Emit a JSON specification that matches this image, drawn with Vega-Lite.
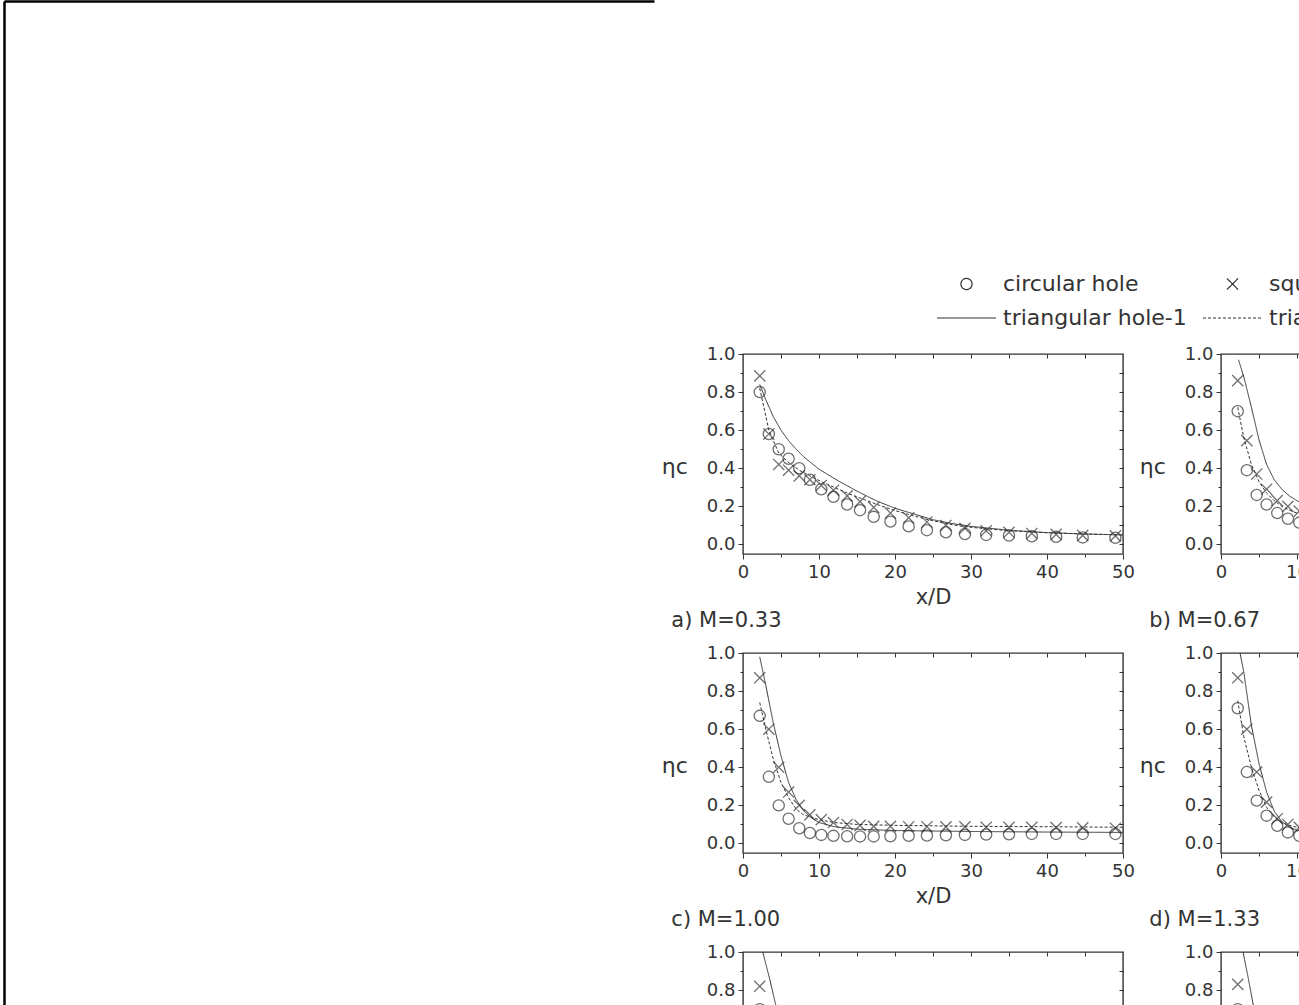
{
  "$schema": "https://vega.github.io/schema/vega-lite/v6.json",
  "padding": {"left": 4, "top": 1, "right": 0, "bottom": 0},
  "spacing": 6,
  "config": {
    "font": "DejaVu Sans",
    "view": {"stroke": null},
    "axis": {
      "labelFont": "DejaVu Sans", "labelFontSize": 18, "labelColor": "#333",
      "titleFont": "DejaVu Sans", "titleFontSize": 21, "titleFontWeight": "normal", "titleColor": "#333",
      "tickColor": "#333", "tickWidth": 1, "labelPadding": 3, "grid": false, "domain": false,
      "labelFlush": false, "labelOverlap": false, "labelBound": false
    },
    "title": {"font": "DejaVu Sans", "fontSize": 21, "fontWeight": "normal", "color": "#333", "orient": "bottom", "anchor": "start", "frame": "bounds", "offset": 3, "dx": 10},
    "legend": {"labelFont": "DejaVu Sans", "labelColor": "#333"}
  },
  "datasets": {
    "eta": [
      {"p":"a","s":"circular hole","x":2.2,"eta":0.80},{"p":"a","s":"circular hole","x":3.4,"eta":0.58},{"p":"a","s":"circular hole","x":4.7,"eta":0.50},{"p":"a","s":"circular hole","x":6.0,"eta":0.45},{"p":"a","s":"circular hole","x":7.4,"eta":0.40},{"p":"a","s":"circular hole","x":8.8,"eta":0.34},{"p":"a","s":"circular hole","x":10.3,"eta":0.29},{"p":"a","s":"circular hole","x":11.9,"eta":0.25},{"p":"a","s":"circular hole","x":13.7,"eta":0.21},{"p":"a","s":"circular hole","x":15.4,"eta":0.18},{"p":"a","s":"circular hole","x":17.2,"eta":0.145},{"p":"a","s":"circular hole","x":19.4,"eta":0.12},{"p":"a","s":"circular hole","x":21.8,"eta":0.095},{"p":"a","s":"circular hole","x":24.2,"eta":0.075},{"p":"a","s":"circular hole","x":26.7,"eta":0.064},{"p":"a","s":"circular hole","x":29.2,"eta":0.055},{"p":"a","s":"circular hole","x":32.0,"eta":0.05},{"p":"a","s":"circular hole","x":35.0,"eta":0.047},{"p":"a","s":"circular hole","x":38.0,"eta":0.043},{"p":"a","s":"circular hole","x":41.2,"eta":0.04},{"p":"a","s":"circular hole","x":44.7,"eta":0.037},{"p":"a","s":"circular hole","x":49.0,"eta":0.035},
      {"p":"a","s":"square hole","x":2.2,"eta":0.885},{"p":"a","s":"square hole","x":3.4,"eta":0.58},{"p":"a","s":"square hole","x":4.7,"eta":0.42},{"p":"a","s":"square hole","x":6.0,"eta":0.39},{"p":"a","s":"square hole","x":7.4,"eta":0.36},{"p":"a","s":"square hole","x":8.8,"eta":0.34},{"p":"a","s":"square hole","x":10.3,"eta":0.31},{"p":"a","s":"square hole","x":11.9,"eta":0.285},{"p":"a","s":"square hole","x":13.7,"eta":0.255},{"p":"a","s":"square hole","x":15.4,"eta":0.225},{"p":"a","s":"square hole","x":17.2,"eta":0.195},{"p":"a","s":"square hole","x":19.4,"eta":0.165},{"p":"a","s":"square hole","x":21.8,"eta":0.14},{"p":"a","s":"square hole","x":24.2,"eta":0.118},{"p":"a","s":"square hole","x":26.7,"eta":0.10},{"p":"a","s":"square hole","x":29.2,"eta":0.085},{"p":"a","s":"square hole","x":32.0,"eta":0.072},{"p":"a","s":"square hole","x":35.0,"eta":0.064},{"p":"a","s":"square hole","x":38.0,"eta":0.058},{"p":"a","s":"square hole","x":41.2,"eta":0.053},{"p":"a","s":"square hole","x":44.7,"eta":0.048},{"p":"a","s":"square hole","x":49.0,"eta":0.045},
      {"p":"a","s":"triangular hole-1","x":2.2,"eta":0.84},{"p":"a","s":"triangular hole-1","x":3,"eta":0.76},{"p":"a","s":"triangular hole-1","x":4,"eta":0.67},{"p":"a","s":"triangular hole-1","x":5,"eta":0.60},{"p":"a","s":"triangular hole-1","x":6,"eta":0.545},{"p":"a","s":"triangular hole-1","x":7,"eta":0.50},{"p":"a","s":"triangular hole-1","x":8,"eta":0.46},{"p":"a","s":"triangular hole-1","x":10,"eta":0.395},{"p":"a","s":"triangular hole-1","x":12.5,"eta":0.335},{"p":"a","s":"triangular hole-1","x":15,"eta":0.28},{"p":"a","s":"triangular hole-1","x":17.5,"eta":0.23},{"p":"a","s":"triangular hole-1","x":20,"eta":0.19},{"p":"a","s":"triangular hole-1","x":22.5,"eta":0.16},{"p":"a","s":"triangular hole-1","x":25,"eta":0.13},{"p":"a","s":"triangular hole-1","x":27.5,"eta":0.11},{"p":"a","s":"triangular hole-1","x":30,"eta":0.095},{"p":"a","s":"triangular hole-1","x":35,"eta":0.075},{"p":"a","s":"triangular hole-1","x":40,"eta":0.062},{"p":"a","s":"triangular hole-1","x":45,"eta":0.055},{"p":"a","s":"triangular hole-1","x":50,"eta":0.05},
      {"p":"a","s":"triangular hole-2","x":2.2,"eta":0.82},{"p":"a","s":"triangular hole-2","x":3.4,"eta":0.60},{"p":"a","s":"triangular hole-2","x":4.7,"eta":0.48},{"p":"a","s":"triangular hole-2","x":6,"eta":0.43},{"p":"a","s":"triangular hole-2","x":7.4,"eta":0.39},{"p":"a","s":"triangular hole-2","x":8.8,"eta":0.36},{"p":"a","s":"triangular hole-2","x":10.3,"eta":0.33},{"p":"a","s":"triangular hole-2","x":12,"eta":0.30},{"p":"a","s":"triangular hole-2","x":14,"eta":0.265},{"p":"a","s":"triangular hole-2","x":16,"eta":0.235},{"p":"a","s":"triangular hole-2","x":18,"eta":0.205},{"p":"a","s":"triangular hole-2","x":20,"eta":0.178},{"p":"a","s":"triangular hole-2","x":22,"eta":0.155},{"p":"a","s":"triangular hole-2","x":24,"eta":0.134},{"p":"a","s":"triangular hole-2","x":26,"eta":0.116},{"p":"a","s":"triangular hole-2","x":28,"eta":0.10},{"p":"a","s":"triangular hole-2","x":30,"eta":0.09},{"p":"a","s":"triangular hole-2","x":35,"eta":0.072},{"p":"a","s":"triangular hole-2","x":40,"eta":0.062},{"p":"a","s":"triangular hole-2","x":45,"eta":0.055},{"p":"a","s":"triangular hole-2","x":50,"eta":0.05},

      {"p":"b","s":"circular hole","x":2.2,"eta":0.70},{"p":"b","s":"circular hole","x":3.4,"eta":0.39},{"p":"b","s":"circular hole","x":4.7,"eta":0.26},{"p":"b","s":"circular hole","x":6.0,"eta":0.21},{"p":"b","s":"circular hole","x":7.4,"eta":0.165},{"p":"b","s":"circular hole","x":8.8,"eta":0.135},{"p":"b","s":"circular hole","x":10.3,"eta":0.115},
      {"p":"b","s":"square hole","x":2.2,"eta":0.86},{"p":"b","s":"square hole","x":3.4,"eta":0.545},{"p":"b","s":"square hole","x":4.7,"eta":0.37},{"p":"b","s":"square hole","x":6.0,"eta":0.29},{"p":"b","s":"square hole","x":7.4,"eta":0.23},{"p":"b","s":"square hole","x":8.8,"eta":0.20},{"p":"b","s":"square hole","x":10.3,"eta":0.175},
      {"p":"b","s":"triangular hole-1","x":2.3,"eta":0.97},{"p":"b","s":"triangular hole-1","x":3,"eta":0.88},{"p":"b","s":"triangular hole-1","x":4,"eta":0.72},{"p":"b","s":"triangular hole-1","x":5,"eta":0.55},{"p":"b","s":"triangular hole-1","x":6,"eta":0.42},{"p":"b","s":"triangular hole-1","x":7,"eta":0.34},{"p":"b","s":"triangular hole-1","x":8,"eta":0.29},{"p":"b","s":"triangular hole-1","x":9,"eta":0.255},{"p":"b","s":"triangular hole-1","x":10,"eta":0.23},{"p":"b","s":"triangular hole-1","x":11,"eta":0.21},
      {"p":"b","s":"triangular hole-2","x":2.2,"eta":0.72},{"p":"b","s":"triangular hole-2","x":3,"eta":0.56},{"p":"b","s":"triangular hole-2","x":4,"eta":0.42},{"p":"b","s":"triangular hole-2","x":5,"eta":0.33},{"p":"b","s":"triangular hole-2","x":6,"eta":0.27},{"p":"b","s":"triangular hole-2","x":7,"eta":0.23},{"p":"b","s":"triangular hole-2","x":8,"eta":0.20},{"p":"b","s":"triangular hole-2","x":9,"eta":0.18},{"p":"b","s":"triangular hole-2","x":10,"eta":0.165},{"p":"b","s":"triangular hole-2","x":11,"eta":0.155},

      {"p":"c","s":"circular hole","x":2.2,"eta":0.67},{"p":"c","s":"circular hole","x":3.4,"eta":0.35},{"p":"c","s":"circular hole","x":4.7,"eta":0.20},{"p":"c","s":"circular hole","x":6.0,"eta":0.13},{"p":"c","s":"circular hole","x":7.4,"eta":0.08},{"p":"c","s":"circular hole","x":8.8,"eta":0.055},{"p":"c","s":"circular hole","x":10.3,"eta":0.045},{"p":"c","s":"circular hole","x":11.9,"eta":0.04},{"p":"c","s":"circular hole","x":13.7,"eta":0.038},{"p":"c","s":"circular hole","x":15.4,"eta":0.037},{"p":"c","s":"circular hole","x":17.2,"eta":0.037},{"p":"c","s":"circular hole","x":19.4,"eta":0.038},{"p":"c","s":"circular hole","x":21.8,"eta":0.04},{"p":"c","s":"circular hole","x":24.2,"eta":0.042},{"p":"c","s":"circular hole","x":26.7,"eta":0.043},{"p":"c","s":"circular hole","x":29.2,"eta":0.045},{"p":"c","s":"circular hole","x":32.0,"eta":0.047},{"p":"c","s":"circular hole","x":35.0,"eta":0.048},{"p":"c","s":"circular hole","x":38.0,"eta":0.05},{"p":"c","s":"circular hole","x":41.2,"eta":0.05},{"p":"c","s":"circular hole","x":44.7,"eta":0.05},{"p":"c","s":"circular hole","x":49.0,"eta":0.05},
      {"p":"c","s":"square hole","x":2.2,"eta":0.87},{"p":"c","s":"square hole","x":3.4,"eta":0.60},{"p":"c","s":"square hole","x":4.7,"eta":0.40},{"p":"c","s":"square hole","x":6.0,"eta":0.27},{"p":"c","s":"square hole","x":7.4,"eta":0.20},{"p":"c","s":"square hole","x":8.8,"eta":0.15},{"p":"c","s":"square hole","x":10.3,"eta":0.125},{"p":"c","s":"square hole","x":11.9,"eta":0.11},{"p":"c","s":"square hole","x":13.7,"eta":0.10},{"p":"c","s":"square hole","x":15.4,"eta":0.095},{"p":"c","s":"square hole","x":17.2,"eta":0.09},{"p":"c","s":"square hole","x":19.4,"eta":0.09},{"p":"c","s":"square hole","x":21.8,"eta":0.088},{"p":"c","s":"square hole","x":24.2,"eta":0.088},{"p":"c","s":"square hole","x":26.7,"eta":0.087},{"p":"c","s":"square hole","x":29.2,"eta":0.087},{"p":"c","s":"square hole","x":32.0,"eta":0.085},{"p":"c","s":"square hole","x":35.0,"eta":0.085},{"p":"c","s":"square hole","x":38.0,"eta":0.085},{"p":"c","s":"square hole","x":41.2,"eta":0.083},{"p":"c","s":"square hole","x":44.7,"eta":0.082},{"p":"c","s":"square hole","x":49.0,"eta":0.08},
      {"p":"c","s":"triangular hole-1","x":2.2,"eta":0.98},{"p":"c","s":"triangular hole-1","x":3,"eta":0.83},{"p":"c","s":"triangular hole-1","x":4,"eta":0.63},{"p":"c","s":"triangular hole-1","x":5,"eta":0.46},{"p":"c","s":"triangular hole-1","x":6,"eta":0.32},{"p":"c","s":"triangular hole-1","x":7,"eta":0.23},{"p":"c","s":"triangular hole-1","x":8,"eta":0.17},{"p":"c","s":"triangular hole-1","x":9,"eta":0.135},{"p":"c","s":"triangular hole-1","x":10,"eta":0.11},{"p":"c","s":"triangular hole-1","x":12,"eta":0.088},{"p":"c","s":"triangular hole-1","x":15,"eta":0.075},{"p":"c","s":"triangular hole-1","x":20,"eta":0.068},{"p":"c","s":"triangular hole-1","x":30,"eta":0.063},{"p":"c","s":"triangular hole-1","x":40,"eta":0.06},{"p":"c","s":"triangular hole-1","x":50,"eta":0.058},
      {"p":"c","s":"triangular hole-2","x":2.2,"eta":0.74},{"p":"c","s":"triangular hole-2","x":3,"eta":0.60},{"p":"c","s":"triangular hole-2","x":4,"eta":0.44},{"p":"c","s":"triangular hole-2","x":5,"eta":0.32},{"p":"c","s":"triangular hole-2","x":6,"eta":0.24},{"p":"c","s":"triangular hole-2","x":7,"eta":0.18},{"p":"c","s":"triangular hole-2","x":8,"eta":0.15},{"p":"c","s":"triangular hole-2","x":10,"eta":0.125},{"p":"c","s":"triangular hole-2","x":12,"eta":0.11},{"p":"c","s":"triangular hole-2","x":15,"eta":0.10},{"p":"c","s":"triangular hole-2","x":20,"eta":0.095},{"p":"c","s":"triangular hole-2","x":30,"eta":0.09},{"p":"c","s":"triangular hole-2","x":40,"eta":0.088},{"p":"c","s":"triangular hole-2","x":50,"eta":0.085},

      {"p":"d","s":"circular hole","x":2.2,"eta":0.71},{"p":"d","s":"circular hole","x":3.4,"eta":0.375},{"p":"d","s":"circular hole","x":4.7,"eta":0.225},{"p":"d","s":"circular hole","x":6.0,"eta":0.146},{"p":"d","s":"circular hole","x":7.4,"eta":0.093},{"p":"d","s":"circular hole","x":8.8,"eta":0.058},{"p":"d","s":"circular hole","x":10.3,"eta":0.04},
      {"p":"d","s":"square hole","x":2.2,"eta":0.87},{"p":"d","s":"square hole","x":3.4,"eta":0.60},{"p":"d","s":"square hole","x":4.7,"eta":0.375},{"p":"d","s":"square hole","x":6.0,"eta":0.217},{"p":"d","s":"square hole","x":7.4,"eta":0.13},{"p":"d","s":"square hole","x":8.8,"eta":0.10},{"p":"d","s":"square hole","x":10.3,"eta":0.085},
      {"p":"d","s":"triangular hole-1","x":2.5,"eta":1.0},{"p":"d","s":"triangular hole-1","x":3,"eta":0.90},{"p":"d","s":"triangular hole-1","x":4,"eta":0.62},{"p":"d","s":"triangular hole-1","x":5,"eta":0.42},{"p":"d","s":"triangular hole-1","x":6,"eta":0.27},{"p":"d","s":"triangular hole-1","x":7,"eta":0.17},{"p":"d","s":"triangular hole-1","x":8,"eta":0.115},{"p":"d","s":"triangular hole-1","x":9,"eta":0.085},{"p":"d","s":"triangular hole-1","x":10,"eta":0.07},{"p":"d","s":"triangular hole-1","x":11,"eta":0.065},
      {"p":"d","s":"triangular hole-2","x":2.2,"eta":0.75},{"p":"d","s":"triangular hole-2","x":3,"eta":0.56},{"p":"d","s":"triangular hole-2","x":4,"eta":0.40},{"p":"d","s":"triangular hole-2","x":5,"eta":0.28},{"p":"d","s":"triangular hole-2","x":6,"eta":0.19},{"p":"d","s":"triangular hole-2","x":7,"eta":0.14},{"p":"d","s":"triangular hole-2","x":8,"eta":0.11},{"p":"d","s":"triangular hole-2","x":9,"eta":0.095},{"p":"d","s":"triangular hole-2","x":10,"eta":0.085},{"p":"d","s":"triangular hole-2","x":11,"eta":0.08},

      {"p":"e","s":"circular hole","x":2.2,"eta":0.70},{"p":"e","s":"square hole","x":2.2,"eta":0.82},
      {"p":"e","s":"triangular hole-1","x":2.6,"eta":1.0},{"p":"e","s":"triangular hole-1","x":3.5,"eta":0.86},{"p":"e","s":"triangular hole-1","x":4.5,"eta":0.69},
      {"p":"f","s":"circular hole","x":2.2,"eta":0.70},{"p":"f","s":"square hole","x":2.2,"eta":0.83},
      {"p":"f","s":"triangular hole-1","x":2.9,"eta":1.0},{"p":"f","s":"triangular hole-1","x":3.6,"eta":0.86},{"p":"f","s":"triangular hole-1","x":4.3,"eta":0.71}
    ]
  },
  "hconcat": [
    {
      "width": 650, "height": 1010,
      "data": {"values": []},
      "mark": "point",
      "encoding": {
        "x": {"field": "u", "type": "quantitative", "scale": {"domain": [0, 1]}, "axis": {"orient": "top", "labels": false, "ticks": false, "title": null, "domain": true, "domainColor": "#000", "domainWidth": 2.5}},
        "y": {"field": "v", "type": "quantitative", "scale": {"domain": [0, 1]}, "axis": {"orient": "left", "labels": false, "ticks": false, "title": null, "domain": true, "domainColor": "#000", "domainWidth": 2.5}}
      }
    },
    {
      "spacing": 11,
      "vconcat": [
        {"width": 1, "height": 332, "data": {"values": []}, "mark": "point"},
        {
          "spacing": 2,
          "hconcat": [
            {
              "width": 380, "height": 200, "view": {"stroke": "#333", "strokeWidth": 1.4},
              "title": "a) M=0.33",
              "data": {"name": "eta"},
              "transform": [{"filter": "datum.p === 'a'"}],
              "layer": [
                {
                  "transform": [{"filter": "datum.s === 'circular hole' || datum.s === 'square hole'"}],
                  "mark": {"type": "point", "filled": false, "size": 125, "strokeWidth": 1.3, "color": "#333"},
                  "encoding": {
                    "x": {"field": "x", "type": "quantitative", "scale": {"domain": [0, 50], "nice": false, "zero": false}, "axis": {"orient": "bottom", "values": [0,5,10,15,20,25,30,35,40,45,50], "labelExpr": "datum.value % 10 === 0 ? datum.label : ''", "tickSize": {"condition": {"test": "datum.value % 10 === 0", "value": 5}, "value": 3}, "labelPadding": 4, "title": "x/D", "titlePadding": 5}},
                    "y": {"field": "eta", "type": "quantitative", "scale": {"domain": [-0.05, 1], "nice": false, "zero": false}, "axis": {"orient": "left", "values": [0,0.1,0.2,0.3,0.4,0.5,0.6,0.7,0.8,0.9,1], "labelExpr": "round(datum.value * 10) % 2 === 0 ? format(datum.value, '.1f') : ''", "tickSize": {"condition": {"test": "round(datum.value * 10) % 2 === 0", "value": 5}, "value": 3}, "title": "ηc", "titleFontSize": 22, "titleAngle": 0, "titleAlign": "right", "titleBaseline": "middle", "titleY": 112, "titlePadding": 19}},
                    "shape": {"field": "s", "type": "nominal", "scale": {"domain": ["circular hole", "triangular hole-1", "square hole", "triangular hole-2"], "range": ["circle", "stroke", "M-1,-1L1,1M-1,1L1,-1", "stroke"]}, "legend": {"title": null, "orient": "none", "legendX": 932, "legendY": 273, "columns": 2, "clipHeight": 20, "rowPadding": 12, "columnPadding": 15, "labelOffset": 6, "labelFontSize": 22, "labelLimit": 400, "symbolSize": 3481, "symbolStrokeWidth": 1.2, "symbolStrokeColor": "#333", "padding": 0, "encode": {"symbols": {"update": {"size": {"signal": "datum.value === 'circular hole' || datum.value === 'square hole' ? 125 : 3481"}}}}}}
                  }
                },
                {
                  "transform": [{"filter": "datum.s === 'triangular hole-1' || datum.s === 'triangular hole-2'"}],
                  "mark": {"type": "line", "strokeWidth": 1, "color": "#333", "clip": true},
                  "encoding": {
                    "x": {"field": "x", "type": "quantitative", "scale": {"domain": [0, 50], "nice": false, "zero": false}, "axis": {"orient": "top", "values": [5,10,15,20,25,30,35,40,45], "labels": false, "tickSize": -4, "title": null}},
                    "y": {"field": "eta", "type": "quantitative", "scale": {"domain": [-0.05, 1], "nice": false, "zero": false}, "axis": {"orient": "right", "values": [0,0.1,0.2,0.3,0.4,0.5,0.6,0.7,0.8,0.9], "labels": false, "tickSize": -4, "title": null}},
                    "strokeDash": {"field": "s", "type": "nominal", "scale": {"domain": ["circular hole", "triangular hole-1", "square hole", "triangular hole-2"], "range": [[1, 0], [1, 0], [1, 0], [3, 2]]}, "legend": {"title": null, "orient": "none", "legendX": 932, "legendY": 273, "columns": 2, "clipHeight": 20, "rowPadding": 12, "columnPadding": 15, "labelOffset": 6, "labelFontSize": 22, "labelLimit": 400, "symbolSize": 3481, "symbolStrokeWidth": 1.2, "symbolStrokeColor": "#333", "padding": 0, "encode": {"symbols": {"update": {"size": {"signal": "datum.value === 'circular hole' || datum.value === 'square hole' ? 125 : 3481"}}}}}}
                  }
                }
              ],
              "resolve": {"axis": {"x": "independent", "y": "independent"}}
            },
            {
              "width": 380, "height": 200, "view": {"stroke": "#333", "strokeWidth": 1.4},
              "title": "b) M=0.67",
              "data": {"name": "eta"},
              "transform": [{"filter": "datum.p === 'b'"}],
              "layer": [
                {
                  "transform": [{"filter": "datum.s === 'circular hole' || datum.s === 'square hole'"}],
                  "mark": {"type": "point", "filled": false, "size": 125, "strokeWidth": 1.3, "color": "#333"},
                  "encoding": {
                    "x": {"field": "x", "type": "quantitative", "scale": {"domain": [0, 50], "nice": false, "zero": false}, "axis": {"orient": "bottom", "values": [0,5,10,15,20,25,30,35,40,45,50], "labelExpr": "datum.value % 10 === 0 ? datum.label : ''", "tickSize": {"condition": {"test": "datum.value % 10 === 0", "value": 5}, "value": 3}, "labelPadding": 4, "title": "x/D", "titlePadding": 5}},
                    "y": {"field": "eta", "type": "quantitative", "scale": {"domain": [-0.05, 1], "nice": false, "zero": false}, "axis": {"orient": "left", "values": [0,0.1,0.2,0.3,0.4,0.5,0.6,0.7,0.8,0.9,1], "labelExpr": "round(datum.value * 10) % 2 === 0 ? format(datum.value, '.1f') : ''", "tickSize": {"condition": {"test": "round(datum.value * 10) % 2 === 0", "value": 5}, "value": 3}, "title": "ηc", "titleFontSize": 22, "titleAngle": 0, "titleAlign": "right", "titleBaseline": "middle", "titleY": 112, "titlePadding": 19}},
                    "shape": {"field": "s", "type": "nominal", "scale": {"domain": ["circular hole", "triangular hole-1", "square hole", "triangular hole-2"], "range": ["circle", "stroke", "M-1,-1L1,1M-1,1L1,-1", "stroke"]}, "legend": null}
                  }
                },
                {
                  "transform": [{"filter": "datum.s === 'triangular hole-1' || datum.s === 'triangular hole-2'"}],
                  "mark": {"type": "line", "strokeWidth": 1, "color": "#333", "clip": true},
                  "encoding": {
                    "x": {"field": "x", "type": "quantitative", "scale": {"domain": [0, 50], "nice": false, "zero": false}, "axis": {"orient": "top", "values": [5,10,15,20,25,30,35,40,45], "labels": false, "tickSize": -4, "title": null}},
                    "y": {"field": "eta", "type": "quantitative", "scale": {"domain": [-0.05, 1], "nice": false, "zero": false}, "axis": {"orient": "right", "values": [0,0.1,0.2,0.3,0.4,0.5,0.6,0.7,0.8,0.9], "labels": false, "tickSize": -4, "title": null}},
                    "strokeDash": {"field": "s", "type": "nominal", "scale": {"domain": ["circular hole", "triangular hole-1", "square hole", "triangular hole-2"], "range": [[1, 0], [1, 0], [1, 0], [3, 2]]}, "legend": null}
                  }
                }
              ],
              "resolve": {"axis": {"x": "independent", "y": "independent"}}
            }
          ]
        },
        {
          "spacing": 2,
          "hconcat": [
            {
              "width": 380, "height": 200, "view": {"stroke": "#333", "strokeWidth": 1.4},
              "title": "c) M=1.00",
              "data": {"name": "eta"},
              "transform": [{"filter": "datum.p === 'c'"}],
              "layer": [
                {
                  "transform": [{"filter": "datum.s === 'circular hole' || datum.s === 'square hole'"}],
                  "mark": {"type": "point", "filled": false, "size": 125, "strokeWidth": 1.3, "color": "#333"},
                  "encoding": {
                    "x": {"field": "x", "type": "quantitative", "scale": {"domain": [0, 50], "nice": false, "zero": false}, "axis": {"orient": "bottom", "values": [0,5,10,15,20,25,30,35,40,45,50], "labelExpr": "datum.value % 10 === 0 ? datum.label : ''", "tickSize": {"condition": {"test": "datum.value % 10 === 0", "value": 5}, "value": 3}, "labelPadding": 4, "title": "x/D", "titlePadding": 5}},
                    "y": {"field": "eta", "type": "quantitative", "scale": {"domain": [-0.05, 1], "nice": false, "zero": false}, "axis": {"orient": "left", "values": [0,0.1,0.2,0.3,0.4,0.5,0.6,0.7,0.8,0.9,1], "labelExpr": "round(datum.value * 10) % 2 === 0 ? format(datum.value, '.1f') : ''", "tickSize": {"condition": {"test": "round(datum.value * 10) % 2 === 0", "value": 5}, "value": 3}, "title": "ηc", "titleFontSize": 22, "titleAngle": 0, "titleAlign": "right", "titleBaseline": "middle", "titleY": 112, "titlePadding": 19}},
                    "shape": {"field": "s", "type": "nominal", "scale": {"domain": ["circular hole", "triangular hole-1", "square hole", "triangular hole-2"], "range": ["circle", "stroke", "M-1,-1L1,1M-1,1L1,-1", "stroke"]}, "legend": null}
                  }
                },
                {
                  "transform": [{"filter": "datum.s === 'triangular hole-1' || datum.s === 'triangular hole-2'"}],
                  "mark": {"type": "line", "strokeWidth": 1, "color": "#333", "clip": true},
                  "encoding": {
                    "x": {"field": "x", "type": "quantitative", "scale": {"domain": [0, 50], "nice": false, "zero": false}, "axis": {"orient": "top", "values": [5,10,15,20,25,30,35,40,45], "labels": false, "tickSize": -4, "title": null}},
                    "y": {"field": "eta", "type": "quantitative", "scale": {"domain": [-0.05, 1], "nice": false, "zero": false}, "axis": {"orient": "right", "values": [0,0.1,0.2,0.3,0.4,0.5,0.6,0.7,0.8,0.9], "labels": false, "tickSize": -4, "title": null}},
                    "strokeDash": {"field": "s", "type": "nominal", "scale": {"domain": ["circular hole", "triangular hole-1", "square hole", "triangular hole-2"], "range": [[1, 0], [1, 0], [1, 0], [3, 2]]}, "legend": null}
                  }
                }
              ],
              "resolve": {"axis": {"x": "independent", "y": "independent"}}
            },
            {
              "width": 380, "height": 200, "view": {"stroke": "#333", "strokeWidth": 1.4},
              "title": "d) M=1.33",
              "data": {"name": "eta"},
              "transform": [{"filter": "datum.p === 'd'"}],
              "layer": [
                {
                  "transform": [{"filter": "datum.s === 'circular hole' || datum.s === 'square hole'"}],
                  "mark": {"type": "point", "filled": false, "size": 125, "strokeWidth": 1.3, "color": "#333"},
                  "encoding": {
                    "x": {"field": "x", "type": "quantitative", "scale": {"domain": [0, 50], "nice": false, "zero": false}, "axis": {"orient": "bottom", "values": [0,5,10,15,20,25,30,35,40,45,50], "labelExpr": "datum.value % 10 === 0 ? datum.label : ''", "tickSize": {"condition": {"test": "datum.value % 10 === 0", "value": 5}, "value": 3}, "labelPadding": 4, "title": "x/D", "titlePadding": 5}},
                    "y": {"field": "eta", "type": "quantitative", "scale": {"domain": [-0.05, 1], "nice": false, "zero": false}, "axis": {"orient": "left", "values": [0,0.1,0.2,0.3,0.4,0.5,0.6,0.7,0.8,0.9,1], "labelExpr": "round(datum.value * 10) % 2 === 0 ? format(datum.value, '.1f') : ''", "tickSize": {"condition": {"test": "round(datum.value * 10) % 2 === 0", "value": 5}, "value": 3}, "title": "ηc", "titleFontSize": 22, "titleAngle": 0, "titleAlign": "right", "titleBaseline": "middle", "titleY": 112, "titlePadding": 19}},
                    "shape": {"field": "s", "type": "nominal", "scale": {"domain": ["circular hole", "triangular hole-1", "square hole", "triangular hole-2"], "range": ["circle", "stroke", "M-1,-1L1,1M-1,1L1,-1", "stroke"]}, "legend": null}
                  }
                },
                {
                  "transform": [{"filter": "datum.s === 'triangular hole-1' || datum.s === 'triangular hole-2'"}],
                  "mark": {"type": "line", "strokeWidth": 1, "color": "#333", "clip": true},
                  "encoding": {
                    "x": {"field": "x", "type": "quantitative", "scale": {"domain": [0, 50], "nice": false, "zero": false}, "axis": {"orient": "top", "values": [5,10,15,20,25,30,35,40,45], "labels": false, "tickSize": -4, "title": null}},
                    "y": {"field": "eta", "type": "quantitative", "scale": {"domain": [-0.05, 1], "nice": false, "zero": false}, "axis": {"orient": "right", "values": [0,0.1,0.2,0.3,0.4,0.5,0.6,0.7,0.8,0.9], "labels": false, "tickSize": -4, "title": null}},
                    "strokeDash": {"field": "s", "type": "nominal", "scale": {"domain": ["circular hole", "triangular hole-1", "square hole", "triangular hole-2"], "range": [[1, 0], [1, 0], [1, 0], [3, 2]]}, "legend": null}
                  }
                }
              ],
              "resolve": {"axis": {"x": "independent", "y": "independent"}}
            }
          ]
        },
        {
          "spacing": 2,
          "hconcat": [
            {
              "width": 380, "height": 200, "view": {"stroke": "#333", "strokeWidth": 1.4},
              "data": {"name": "eta"},
              "transform": [{"filter": "datum.p === 'e'"}],
              "layer": [
                {
                  "transform": [{"filter": "datum.s === 'circular hole' || datum.s === 'square hole'"}],
                  "mark": {"type": "point", "filled": false, "size": 125, "strokeWidth": 1.3, "color": "#333"},
                  "encoding": {
                    "x": {"field": "x", "type": "quantitative", "scale": {"domain": [0, 50], "nice": false, "zero": false}, "axis": {"orient": "bottom", "values": [0,5,10,15,20,25,30,35,40,45,50], "labelExpr": "datum.value % 10 === 0 ? datum.label : ''", "tickSize": {"condition": {"test": "datum.value % 10 === 0", "value": 5}, "value": 3}, "labelPadding": 4, "title": "x/D", "titlePadding": 5}},
                    "y": {"field": "eta", "type": "quantitative", "scale": {"domain": [-0.05, 1], "nice": false, "zero": false}, "axis": {"orient": "left", "values": [0,0.1,0.2,0.3,0.4,0.5,0.6,0.7,0.8,0.9,1], "labelExpr": "round(datum.value * 10) % 2 === 0 ? format(datum.value, '.1f') : ''", "tickSize": {"condition": {"test": "round(datum.value * 10) % 2 === 0", "value": 5}, "value": 3}, "title": "ηc", "titleFontSize": 22, "titleAngle": 0, "titleAlign": "right", "titleBaseline": "middle", "titleY": 112, "titlePadding": 19}},
                    "shape": {"field": "s", "type": "nominal", "scale": {"domain": ["circular hole", "triangular hole-1", "square hole", "triangular hole-2"], "range": ["circle", "stroke", "M-1,-1L1,1M-1,1L1,-1", "stroke"]}, "legend": null}
                  }
                },
                {
                  "transform": [{"filter": "datum.s === 'triangular hole-1' || datum.s === 'triangular hole-2'"}],
                  "mark": {"type": "line", "strokeWidth": 1, "color": "#333", "clip": true},
                  "encoding": {
                    "x": {"field": "x", "type": "quantitative", "scale": {"domain": [0, 50], "nice": false, "zero": false}, "axis": {"orient": "top", "values": [5,10,15,20,25,30,35,40,45], "labels": false, "tickSize": -4, "title": null}},
                    "y": {"field": "eta", "type": "quantitative", "scale": {"domain": [-0.05, 1], "nice": false, "zero": false}, "axis": {"orient": "right", "values": [0,0.1,0.2,0.3,0.4,0.5,0.6,0.7,0.8,0.9], "labels": false, "tickSize": -4, "title": null}},
                    "strokeDash": {"field": "s", "type": "nominal", "scale": {"domain": ["circular hole", "triangular hole-1", "square hole", "triangular hole-2"], "range": [[1, 0], [1, 0], [1, 0], [3, 2]]}, "legend": null}
                  }
                }
              ],
              "resolve": {"axis": {"x": "independent", "y": "independent"}}
            },
            {
              "width": 380, "height": 200, "view": {"stroke": "#333", "strokeWidth": 1.4},
              "data": {"name": "eta"},
              "transform": [{"filter": "datum.p === 'f'"}],
              "layer": [
                {
                  "transform": [{"filter": "datum.s === 'circular hole' || datum.s === 'square hole'"}],
                  "mark": {"type": "point", "filled": false, "size": 125, "strokeWidth": 1.3, "color": "#333"},
                  "encoding": {
                    "x": {"field": "x", "type": "quantitative", "scale": {"domain": [0, 50], "nice": false, "zero": false}, "axis": {"orient": "bottom", "values": [0,5,10,15,20,25,30,35,40,45,50], "labelExpr": "datum.value % 10 === 0 ? datum.label : ''", "tickSize": {"condition": {"test": "datum.value % 10 === 0", "value": 5}, "value": 3}, "labelPadding": 4, "title": "x/D", "titlePadding": 5}},
                    "y": {"field": "eta", "type": "quantitative", "scale": {"domain": [-0.05, 1], "nice": false, "zero": false}, "axis": {"orient": "left", "values": [0,0.1,0.2,0.3,0.4,0.5,0.6,0.7,0.8,0.9,1], "labelExpr": "round(datum.value * 10) % 2 === 0 ? format(datum.value, '.1f') : ''", "tickSize": {"condition": {"test": "round(datum.value * 10) % 2 === 0", "value": 5}, "value": 3}, "title": "ηc", "titleFontSize": 22, "titleAngle": 0, "titleAlign": "right", "titleBaseline": "middle", "titleY": 112, "titlePadding": 19}},
                    "shape": {"field": "s", "type": "nominal", "scale": {"domain": ["circular hole", "triangular hole-1", "square hole", "triangular hole-2"], "range": ["circle", "stroke", "M-1,-1L1,1M-1,1L1,-1", "stroke"]}, "legend": null}
                  }
                },
                {
                  "transform": [{"filter": "datum.s === 'triangular hole-1' || datum.s === 'triangular hole-2'"}],
                  "mark": {"type": "line", "strokeWidth": 1, "color": "#333", "clip": true},
                  "encoding": {
                    "x": {"field": "x", "type": "quantitative", "scale": {"domain": [0, 50], "nice": false, "zero": false}, "axis": {"orient": "top", "values": [5,10,15,20,25,30,35,40,45], "labels": false, "tickSize": -4, "title": null}},
                    "y": {"field": "eta", "type": "quantitative", "scale": {"domain": [-0.05, 1], "nice": false, "zero": false}, "axis": {"orient": "right", "values": [0,0.1,0.2,0.3,0.4,0.5,0.6,0.7,0.8,0.9], "labels": false, "tickSize": -4, "title": null}},
                    "strokeDash": {"field": "s", "type": "nominal", "scale": {"domain": ["circular hole", "triangular hole-1", "square hole", "triangular hole-2"], "range": [[1, 0], [1, 0], [1, 0], [3, 2]]}, "legend": null}
                  }
                }
              ],
              "resolve": {"axis": {"x": "independent", "y": "independent"}}
            }
          ]
        }
      ]
    }
  ]
}
